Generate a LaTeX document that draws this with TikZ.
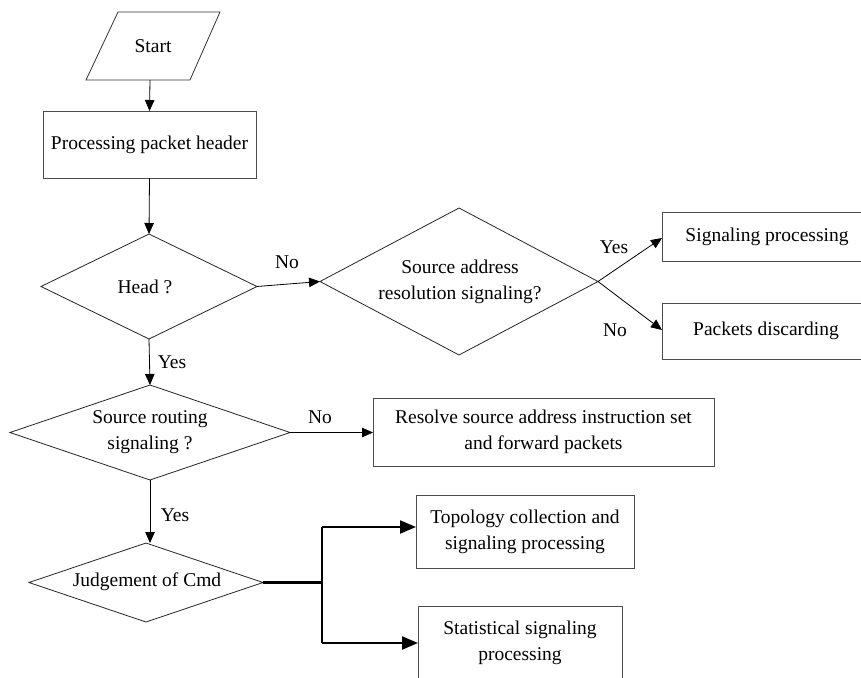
\documentclass[tikz,border=0pt]{standalone}
\usepackage{fontspec}
\setmainfont{Liberation Serif}
\usetikzlibrary{arrows.meta,shapes.geometric}
\begin{document}
\begin{tikzpicture}[x=1pt,y=-1pt,
  every node/.style={font=\fontsize{19.5}{26}\selectfont},
  box/.style={draw=black!70, line width=0.8pt, rectangle, inner sep=0pt, outer sep=0pt, align=center},
  dia/.style={draw=black!85, line width=0.8pt, diamond, inner sep=0pt, outer sep=0pt},
  txt/.style={align=center, inner sep=0pt},
  flow/.style={draw=black, line width=0.8pt, -{Triangle[length=11pt,width=9.5pt]}},
  bold/.style={draw=black, line width=2.2pt},
  boldflow/.style={bold, -{Triangle[length=16pt,width=13pt]}},
  lbl/.style={inner sep=0pt}]
\useasboundingbox (0,0) rectangle (861,677);
\clip (0,0) rectangle (861,677);
\fill[white] (0,0) rectangle (861,677);

% start symbol (parallelogram)
\draw[draw=black!80, line width=0.8pt] (118,12) -- (220,12) -- (190,80) -- (86,80) -- cycle;
\node[txt] (start) at (153,46) {Start};
\coordinate (startb) at (150,80);

% boxes
\node[box, minimum width=213pt, minimum height=67pt] (hdr) at (149.5,144.5) {Processing packet header};
\node[box, minimum width=214pt, minimum height=49pt, anchor=west] (sig) at (662,236.5) {};
\node[txt] at (767,237) {Signaling processing};
\node[box, minimum width=214pt, minimum height=56pt, anchor=west] (disc) at (662,331) {};
\node[txt] at (766,331) {Packets discarding};
\node[box, minimum width=341pt, minimum height=68pt] (res) at (543.5,432) {Resolve source address instruction set\\and forward packets};
\node[box, minimum width=218pt, minimum height=73pt] (topo) at (525,531.5) {Topology collection and\\signaling processing};
\node[box, minimum width=204pt, minimum height=74pt] (stat) at (520,643) {Statistical signaling\\processing};

% decisions
\node[dia, minimum width=216pt, minimum height=105pt] (head) at (149,286.5) {};
\node[txt] at (145,287) {Head ?};
\node[dia, minimum width=278pt, minimum height=147pt] (sar) at (459,281.5) {};
\node[txt] at (460,282) {Source address\\resolution signaling?};
\node[dia, minimum width=280pt, minimum height=95pt] (srs) at (150,432.5) {};
\node[txt] at (150,432) {Source routing\\signaling ?};
\node[dia, minimum width=234pt, minimum height=79pt] (cmd) at (146,582.5) {};
\node[txt] at (147,582) {Judgement of Cmd};

% connectors
\draw[flow] (startb) -- (hdr.north);
\draw[flow] (hdr.south) -- (head.north);
\draw[flow] (head.east) -- (sar.west);
\draw[flow] (sar.east) -- ([yshift=-1.5pt]sig.west);
\draw[flow] (sar.east) -- ([yshift=1pt]disc.west);
\draw[flow] (head.south) -- (srs.north);
\draw[flow] (srs.east) -- (srs.east -| res.west);
\draw[flow] (srs.south) -- (srs.south |- cmd.north);

\coordinate (split) at (322,582.5);
\draw[bold] (cmd.east) -- (split);
\draw[bold] (split |- 0,527) -- (split |- 0,643);
\draw[boldflow] (split |- 0,527) -- (topo.west |- 0,527);
\draw[boldflow] (split |- 0,643) -- (stat.west |- 0,643);

% branch labels
\node[lbl] at (287,262) {No};
\node[lbl] at (614,247) {Yes};
\node[lbl] at (615,330) {No};
\node[lbl] at (172,362) {Yes};
\node[lbl] at (320,417) {No};
\node[lbl] at (175,515) {Yes};
\end{tikzpicture}
\end{document}
